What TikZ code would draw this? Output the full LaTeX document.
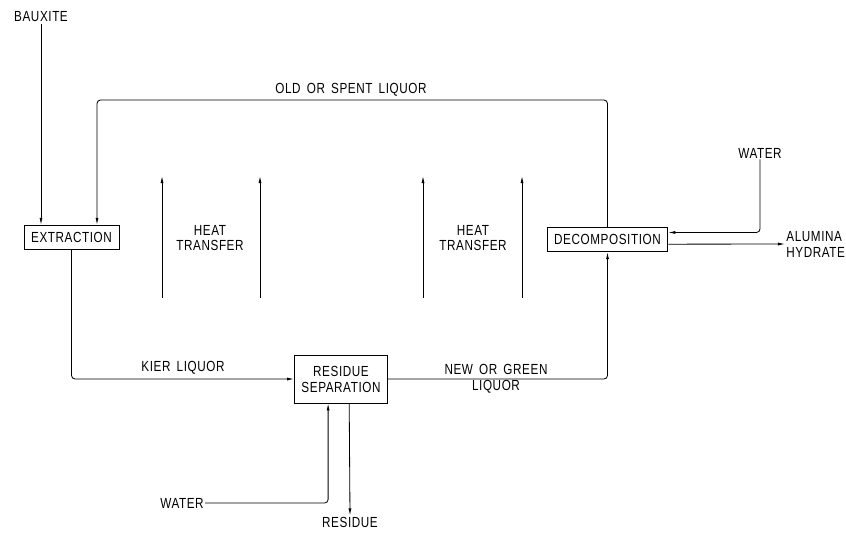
\documentclass[tikz,border=0pt]{standalone}
\usepackage{fontspec}
\newfontfamily\lblfont[FakeStretch=0.8,LetterSpace=4,WordSpace=1.6]{Liberation Sans}
\usetikzlibrary{arrows.meta,positioning}

\tikzset{
  unit/.style={draw,line width=0.7pt,inner xsep=6pt,minimum height=21pt,align=center},
  lbl/.style={inner sep=1pt,align=center},
  flow/.style={line width=0.7pt,-{Latex[length=6pt,width=2.6pt]}},
  pipe/.style={line width=0.7pt}
}

\begin{document}
\begin{tikzpicture}[x=0.03cm,y=-0.03cm,font=\lblfont\fontsize{12.5}{13.6}\selectfont,rounded corners=3pt]
  \useasboundingbox (0,0) rectangle (846,533);
  % process units
  \node[unit,rounded corners=0pt] (extr) at (71.5,237.5) {EXTRACTION};
  \node[unit,rounded corners=0pt,minimum height=41pt] (resid) at (341,379) {RESIDUE\\SEPARATION};
  \node[unit,rounded corners=0pt] (decomp) at (607.5,239.5) {DECOMPOSITION};
  % stream labels
  \node[lbl] (baux) at (41,17) {BAUXITE};
  \node[lbl] (oldliq) at (351,90) {OLD OR SPENT LIQUOR};
  \node[lbl] (kier) at (183,368) {KIER LIQUOR};
  \node[lbl] (newliq) at (496,379) {NEW OR GREEN\\LIQUOR};
  \node[lbl] (watA) at (760,153) {WATER};
  \node[lbl,align=left,anchor=west] (alum) at (785,244) {ALUMINA\\HYDRATE};
  \node[lbl] (watB) at (182,503) {WATER};
  \node[lbl] (resout) at (350,522) {RESIDUE};
  \node[lbl] (heatA) at (210,238) {HEAT\\TRANSFER};
  \node[lbl] (heatB) at (473,238) {HEAT\\TRANSFER};
  \coordinate (oldL) at (97,100);
  % streams
  \draw[flow] (baux.south) -- (baux.south |- extr.north);
  \draw[flow] (decomp.north) |- (oldL) -- (oldL |- extr.north);
  \draw[flow] (extr.south) |- (resid.west);
  \draw[flow] (resid.east) -| (decomp.south);
  \draw[flow] (watA.south) |- ([yshift=6pt]decomp.east);
  \draw[flow] ([yshift=-4pt]decomp.east) -- (alum.west);
  \draw[flow] (watB.east) -| ([xshift=-11pt]resid.south);
  \draw[flow] ([xshift=7pt]resid.south) -- (resout.north);
  % heat transfer
  \foreach \x in {162,260,423,522}
    \draw[flow] (\x,298) -- (\x,176);
\end{tikzpicture}
\end{document}
